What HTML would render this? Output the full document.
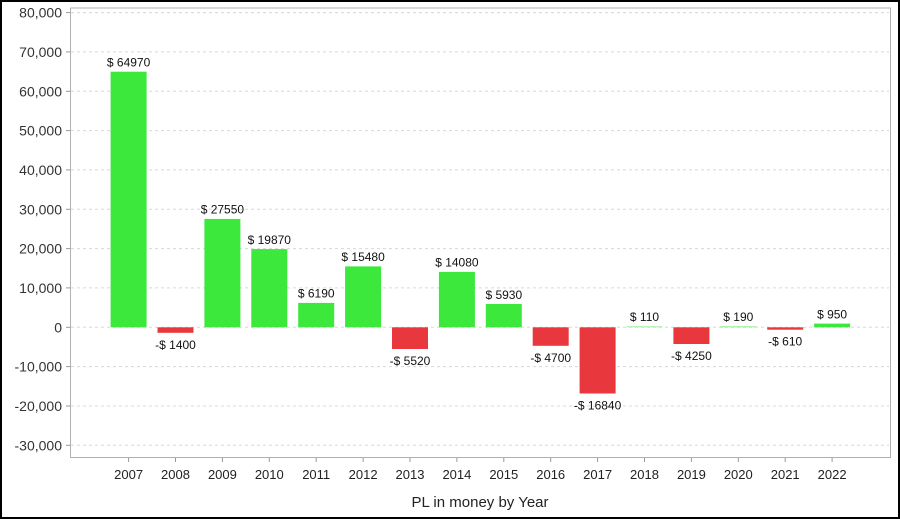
<!DOCTYPE html>
<html><head><style>
body{margin:0;background:#fff}
svg{display:block;font-family:"Liberation Sans",Arial,sans-serif}
</style></head><body>
<svg width="900" height="519" xmlns="http://www.w3.org/2000/svg">
<rect x="1" y="1" width="898" height="517" fill="#fff" stroke="#000" stroke-width="2"/>
<g stroke="#d8d8d8" stroke-dasharray="3,3" stroke-width="1">
<line x1="71" x2="889" y1="12.6" y2="12.6"/><line x1="71" x2="889" y1="51.9" y2="51.9"/>
<line x1="71" x2="889" y1="91.3" y2="91.3"/><line x1="71" x2="889" y1="130.6" y2="130.6"/>
<line x1="71" x2="889" y1="169.9" y2="169.9"/><line x1="71" x2="889" y1="209.3" y2="209.3"/>
<line x1="71" x2="889" y1="248.6" y2="248.6"/><line x1="71" x2="889" y1="287.9" y2="287.9"/>
<line x1="71" x2="889" y1="327.3" y2="327.3"/><line x1="71" x2="889" y1="366.6" y2="366.6"/>
<line x1="71" x2="889" y1="406" y2="406"/><line x1="71" x2="889" y1="445.3" y2="445.3"/>
</g>
<path d="M70.5 8 V457.5 H890.5 V8 H70.5" fill="none" stroke="#b0b0b0" stroke-width="1"/>
<g stroke="#999">
<line x1="66" x2="70" y1="12.6" y2="12.6"/><line x1="66" x2="70" y1="51.9" y2="51.9"/><line x1="66" x2="70" y1="91.3" y2="91.3"/><line x1="66" x2="70" y1="130.6" y2="130.6"/><line x1="66" x2="70" y1="169.9" y2="169.9"/><line x1="66" x2="70" y1="209.3" y2="209.3"/><line x1="66" x2="70" y1="248.6" y2="248.6"/><line x1="66" x2="70" y1="287.9" y2="287.9"/><line x1="66" x2="70" y1="327.3" y2="327.3"/><line x1="66" x2="70" y1="366.6" y2="366.6"/><line x1="66" x2="70" y1="406" y2="406"/><line x1="66" x2="70" y1="445.3" y2="445.3"/>
</g>
<g font-size="14" fill="#333" text-anchor="end">
<text x="62" y="17.6">80,000</text><text x="62" y="56.9">70,000</text><text x="62" y="96.3">60,000</text><text x="62" y="135.6">50,000</text><text x="62" y="174.9">40,000</text><text x="62" y="214.3">30,000</text><text x="62" y="253.6">20,000</text><text x="62" y="292.9">10,000</text><text x="62" y="332.3">0</text><text x="62" y="371.6">-10,000</text><text x="62" y="411">-20,000</text><text x="62" y="450.3">-30,000</text>
</g>
<g>
<rect x="110.6" y="71.7" width="36" height="255.6" fill="#3de83d"/>
<rect x="157.5" y="327.3" width="36" height="5.5" fill="#e8383d"/>
<rect x="204.4" y="218.9" width="36" height="108.4" fill="#3de83d"/>
<rect x="251.3" y="249.1" width="36" height="78.2" fill="#3de83d"/>
<rect x="298.2" y="302.9" width="36" height="24.4" fill="#3de83d"/>
<rect x="345.1" y="266.4" width="36" height="60.9" fill="#3de83d"/>
<rect x="392" y="327.3" width="36" height="21.7" fill="#e8383d"/>
<rect x="438.9" y="271.9" width="36" height="55.4" fill="#3de83d"/>
<rect x="485.8" y="304" width="36" height="23.3" fill="#3de83d"/>
<rect x="532.7" y="327.3" width="36" height="18.5" fill="#e8383d"/>
<rect x="579.6" y="327.3" width="36" height="66.2" fill="#e8383d"/>
<rect x="626.5" y="326.3" width="36" height="1" fill="#9ef09e"/>
<rect x="673.4" y="327.3" width="36" height="16.7" fill="#e8383d"/>
<rect x="720.3" y="326.3" width="36" height="1" fill="#8cec8c"/>
<rect x="767.2" y="327.3" width="36" height="2.4" fill="#e8383d"/>
<rect x="814.1" y="323.6" width="36" height="3.7" fill="#3de83d"/>
</g>
<g font-size="12" fill="#111" text-anchor="middle">
<text x="128.6" y="66.5">$ 64970</text>
<text x="175.5" y="348.8">-$ 1400</text>
<text x="222.4" y="213.7">$ 27550</text>
<text x="269.3" y="243.9">$ 19870</text>
<text x="316.2" y="297.7">$ 6190</text>
<text x="363.1" y="261.2">$ 15480</text>
<text x="410" y="365">-$ 5520</text>
<text x="456.9" y="266.7">$ 14080</text>
<text x="503.8" y="298.8">$ 5930</text>
<text x="550.7" y="361.8">-$ 4700</text>
<text x="597.6" y="409.5">-$ 16840</text>
<text x="644.5" y="321.1">$ 110</text>
<text x="691.4" y="360">-$ 4250</text>
<text x="738.3" y="321.1">$ 190</text>
<text x="785.2" y="345.7">-$ 610</text>
<text x="832.1" y="318.4">$ 950</text>
</g>
<g stroke="#999">
<line x1="128.6" x2="128.6" y1="458" y2="462"/><line x1="175.5" x2="175.5" y1="458" y2="462"/><line x1="222.4" x2="222.4" y1="458" y2="462"/><line x1="269.3" x2="269.3" y1="458" y2="462"/><line x1="316.2" x2="316.2" y1="458" y2="462"/><line x1="363.1" x2="363.1" y1="458" y2="462"/><line x1="410" x2="410" y1="458" y2="462"/><line x1="456.9" x2="456.9" y1="458" y2="462"/><line x1="503.8" x2="503.8" y1="458" y2="462"/><line x1="550.7" x2="550.7" y1="458" y2="462"/><line x1="597.6" x2="597.6" y1="458" y2="462"/><line x1="644.5" x2="644.5" y1="458" y2="462"/><line x1="691.4" x2="691.4" y1="458" y2="462"/><line x1="738.3" x2="738.3" y1="458" y2="462"/><line x1="785.2" x2="785.2" y1="458" y2="462"/><line x1="832.1" x2="832.1" y1="458" y2="462"/>
</g>
<g font-size="13" fill="#222" text-anchor="middle">
<text x="128.6" y="479">2007</text><text x="175.5" y="479">2008</text><text x="222.4" y="479">2009</text><text x="269.3" y="479">2010</text><text x="316.2" y="479">2011</text><text x="363.1" y="479">2012</text><text x="410" y="479">2013</text><text x="456.9" y="479">2014</text><text x="503.8" y="479">2015</text><text x="550.7" y="479">2016</text><text x="597.6" y="479">2017</text><text x="644.5" y="479">2018</text><text x="691.4" y="479">2019</text><text x="738.3" y="479">2020</text><text x="785.2" y="479">2021</text><text x="832.1" y="479">2022</text>
</g>
<text x="480" y="507" font-size="15" fill="#222" text-anchor="middle">PL in money by Year</text>
</svg>
</body></html>
